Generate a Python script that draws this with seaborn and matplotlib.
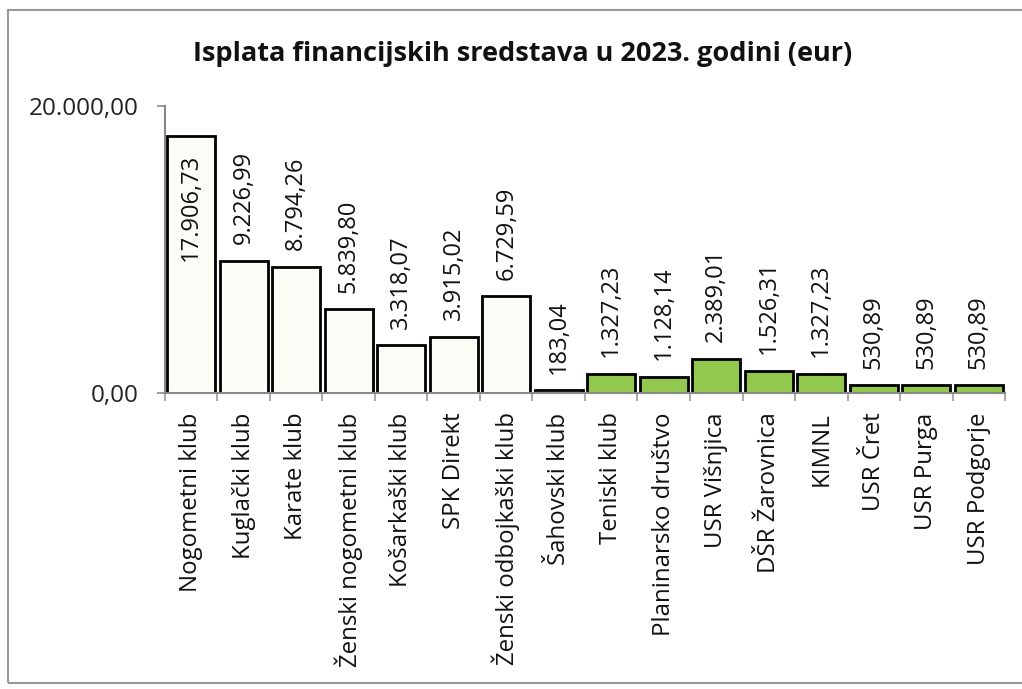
import matplotlib
matplotlib.use("Agg")
import matplotlib.pyplot as plt
import seaborn as sns
from matplotlib.patches import Rectangle

# data
clubs = ["Nogometni klub", "Kuglački klub", "Karate klub", "Ženski nogometni klub",
         "Košarkaški klub", "SPK Direkt", "Ženski odbojkaški klub", "Šahovski klub",
         "Teniski klub", "Planinarsko društvo", "USR Višnjica", "DŠR Žarovnica",
         "KIMNL", "USR Čret", "USR Purga", "USR Podgorje"]
amounts = [17906.73, 9226.99, 8794.26, 5839.80, 3318.07, 3915.02, 6729.59, 183.04,
           1327.23, 1128.14, 2389.01, 1526.31, 1327.23, 530.89, 530.89, 530.89]
bar_colors = ["#fdfdf8"] * 8 + ["#92c84e"] * 8


def hr_fmt(v):
    s = f"{v:,.2f}"
    return s.replace(",", "X").replace(".", ",").replace("X", ".")


sns.set_theme(style="white")
plt.rcParams["font.family"] = ["Open Sans", "DejaVu Sans"]

fig = plt.figure(figsize=(10.22, 6.89), dpi=100)
ax = fig.add_axes([0.1614, 0.4296, 0.822, 0.4166])

sns.barplot(x=clubs, y=amounts, hue=clubs, palette=bar_colors, legend=False,
            edgecolor="black", linewidth=2, width=0.92, saturation=1, ax=ax)

ax.set_xlim(-0.5, len(clubs) - 0.5)
ax.set_ylim(0, 20000)
ax.set_yticks([0, 20000])
ax.set_yticklabels(["0,00", "20.000,00"], fontsize=17.5, color="#222222")
ax.set_xticks(range(len(clubs)))
ax.set_xticklabels(clubs, rotation=90, fontsize=17.3, color="#111111")
ax.tick_params(axis="x", length=0, pad=14)
ax.tick_params(axis="y", length=6, width=1.2, color="#888888", left=True, pad=13)
ax.set_xticks([i - 0.5 for i in range(len(clubs) + 1)], minor=True)
ax.tick_params(axis="x", which="minor", length=6, width=1.2, color="#999999", bottom=True)
ax.set_xlabel("")
ax.set_ylabel("")

for side in ["top", "right"]:
    ax.spines[side].set_visible(False)
for side in ["left", "bottom"]:
    ax.spines[side].set_color("#888888")
    ax.spines[side].set_linewidth(1.5)

for i, v in enumerate(amounts):
    if v > 15000:
        ax.annotate(hr_fmt(v), (i, v), xytext=(0, -13), textcoords="offset points",
                    rotation=90, ha="center", va="top", fontsize=17, color="#111111")
    else:
        ax.annotate(hr_fmt(v), (i, v), xytext=(0, 12), textcoords="offset points",
                    rotation=90, ha="center", va="bottom", fontsize=17, color="#111111")

fig.text(0.511, 0.922, "Isplata financijskih sredstava u 2023. godini (eur)",
         ha="center", va="center", fontsize=19.5, fontweight="bold", color="#111111")

# chart frame
fig.patches.append(Rectangle((8 / 1022, 6 / 689), 1.2, 673 / 689, transform=fig.transFigure,
                             fill=False, edgecolor="#999999", linewidth=1.5))

fig.savefig("out.png", dpi=100)
